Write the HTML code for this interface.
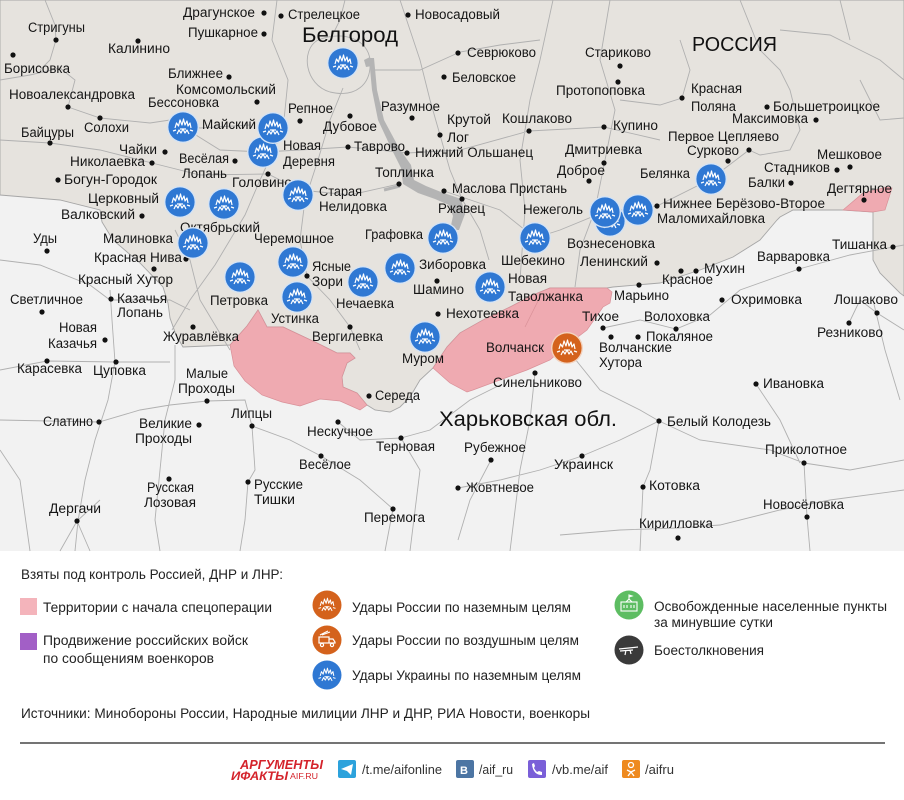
<!DOCTYPE html>
<html><head><meta charset="utf-8"><style>
html,body{margin:0;padding:0;background:#fff;}
svg{display:block;}
.l{font-family:"Liberation Sans",sans-serif;font-size:13.5px;fill:#151515;}
.g{font-family:"Liberation Sans",sans-serif;font-size:13.5px;fill:#222;}
.big{font-family:"Liberation Sans",sans-serif;font-size:21px;fill:#111;}
</style></head><body>
<svg width="904" height="800" viewBox="0 0 904 800" xmlns="http://www.w3.org/2000/svg">
<defs>
<g id="b" fill="none" stroke="#fff" stroke-width="1.2" stroke-linejoin="round">
<path d="M-8,1 L-6.5,-4 L-4.5,-1 L-3,-7 L-1,-2 L0.5,-8 L2,-2 L4,-6 L5,-1 L7,-4 L8,1"/>
<path d="M-6,7 L-4,3 L-2,6 L0,2 L2,6 L4,3 L6,7"/>
<path d="M-10,4 L-7,3 M10,4 L7,3 M-3,2 L3,2"/>
</g>
</defs>
<rect x="0" y="0" width="904" height="800" fill="#fff"/>
<rect x="0" y="0" width="904" height="551" fill="#f2f2f2"/>
<polygon fill="#e6e3de" stroke="#a6a6a6" stroke-width="0.9" points="0,0 904,0 904,296 900,293 880,273 873,260 873,212 843,210 827,210 793,210 780,217 777,220 760,240 733,257 700,270 660,283 613,287 607,288 550,288 533,295 510,307 483,320 460,333 447,347 433,368 420,380 410,397 400,407 390,412 375,410 367,405 357,393 343,387 342,377 347,363 355,358 350,353 337,353 317,343 300,335 283,327 267,327 258,310 247,326 230,345 183,347 176,335 170,318 168,303 163,287 140,263 113,240 102,222 100,210 60,200 0,195"/>
<!-- roads -->
<path fill="none" stroke="#b0b0b0" stroke-width="0.9" d="
M0,80 L30,75 L60,68 L75,80 L68,107 L100,118 L150,123 L170,120 L200,128 L250,125
M45,0 L55,25 L56,40 L50,60 L40,70
M277,0 L272,40 L288,80 L283,130 L260,180 L245,215 L215,265 L190,300 L172,330
M343,88 L330,120 L318,160 L305,200 L300,240 L307,276 L330,300 L350,327 L360,350
M318,40 C300,50 305,85 330,92 C355,98 372,85 370,60 C368,40 345,30 318,40
M345,0 L340,20 L330,40
M375,70 L420,70 L460,52 L500,45 L540,40
M400,0 L410,30 L420,60 L430,100 L440,135 L450,170 L462,199 L480,230 L489,260
M553,0 L540,60 L530,100 L520,160 L525,210 L520,280
M610,0 L600,60 L615,110 L605,160 L595,210 L580,250 L575,287
M680,40 L690,70 L682,98 L660,105 L620,100
M740,0 L760,50 L780,70 L790,90 L800,130 L790,150 L760,155 L749,150
M780,30 L830,35 L850,45 L880,60 L904,80
M840,0 L850,40 M860,80 L880,120 L904,118
M0,140 L50,143 L100,150 L152,163 L200,175 L268,174 L300,190 L350,195 L399,184
M183,127 L220,150 L263,152 L300,150 L348,147 L407,153 L460,150 L529,131 L604,127 L660,140
M444,191 L500,210 L535,238 L560,230 L604,212 L657,206 L711,179 L749,150
M0,260 L40,265 L90,285 L110,300 L170,300 L190,310
M110,290 L112,320 L115,362 L108,400 L95,440 L85,480 L78,521 L75,551
M175,345 L175,380 L165,420 L160,470 L155,520 L160,551
M0,370 L47,361 L116,362 L170,362
M0,420 L99,422 L140,410 L170,405 L207,401 L245,400 L252,426 L290,440 L321,456 L360,480 L393,509
M252,426 L255,470 L248,482 L245,520 L240,551
M100,500 L77,521 L60,551 M77,521 L90,551
M401,438 L430,430 L470,400 L500,385
M567,349 L600,390 L640,410 L659,421 L700,440 L770,450 L804,463 L850,470 L904,460
M659,421 L650,470 L643,487 L640,551
M804,463 L807,517 L810,551
M560,535 L620,530 L678,528 L720,525 L780,510 L830,500 L904,490
M535,373 L530,420 L520,470 L510,551
M603,328 L640,320 L676,329 L710,315 L740,290 L799,269 L850,255 L893,247 L904,245
M873,300 L885,350 L900,400
M393,509 L385,551
M0,450 L20,480 L30,551
M230,350 L200,300 L190,260 L175,230
M338,422 L360,440 L401,438 L420,470 L410,551
M458,488 L500,480 L540,470 L582,456 L620,440 L659,421
M491,460 L470,500 L458,540
M756,384 L780,420 L800,463
M849,323 L860,300 L877,313 L904,330
"/>
<!-- river -->
<polygon fill="#b4b4b4" points="369,58 372,90 378,120 392,150 401,168 403,184 418,193 435,199 449,205 453,216 450,230 459,230 465,214 461,199 441,192 426,186 414,180 411,165 399,148 384,120 377,90 374,58"/>
<path d="M384,190 L400,186" stroke="#b4b4b4" stroke-width="3" fill="none"/>
<path d="M364,60 L370,57 L372,66 L366,67 Z" fill="#b4b4b4"/>
<!-- pink -->
<polygon fill="#efaab1" stroke="#d99098" stroke-width="0.7" points="230,345 247,326 258,310 267,327 283,327 300,335 317,343 337,353 350,353 355,358 347,363 342,377 343,387 357,393 367,405 360,410 340,401 320,399 300,406 282,402 262,395 245,381 234,366"/>
<polygon fill="#efaab1" stroke="#d99098" stroke-width="0.7" points="433,368 447,347 460,333 483,320 510,307 533,295 550,288 607,288 612,292 610,303 603,307 587,330 570,343 550,360 527,370 500,380 473,390 467,392 450,383"/>
<path d="M525,327 L540,297" stroke="#d99098" stroke-width="0.7" fill="none"/>
<polygon fill="#efaab1" stroke="#d99098" stroke-width="0.7" points="843,210 863,193 887,187 892,188 885,210 873,212"/>
<!-- dots -->
<g fill="#111">
<circle cx="264" cy="13" r="2.6"/><circle cx="281" cy="16" r="2.6"/><circle cx="408" cy="15" r="2.6"/><circle cx="264" cy="34" r="2.6"/><circle cx="56" cy="40" r="2.6"/><circle cx="138" cy="41" r="2.6"/><circle cx="13" cy="55" r="2.6"/><circle cx="229" cy="77" r="2.6"/><circle cx="257" cy="102" r="2.6"/><circle cx="68" cy="107" r="2.6"/><circle cx="300" cy="121" r="2.6"/><circle cx="350" cy="116" r="2.6"/><circle cx="412" cy="118" r="2.6"/><circle cx="100" cy="118" r="2.6"/><circle cx="50" cy="143" r="2.6"/><circle cx="165" cy="152" r="2.6"/><circle cx="152" cy="163" r="2.6"/><circle cx="235" cy="161" r="2.6"/><circle cx="348" cy="147" r="2.6"/><circle cx="407" cy="153" r="2.6"/><circle cx="268" cy="174" r="2.6"/><circle cx="58" cy="180" r="2.6"/><circle cx="399" cy="184" r="2.6"/><circle cx="142" cy="216" r="2.6"/><circle cx="47" cy="251" r="2.6"/><circle cx="186" cy="259" r="2.6"/><circle cx="154" cy="269" r="2.6"/><circle cx="42" cy="312" r="2.6"/><circle cx="111" cy="299" r="2.6"/><circle cx="307" cy="276" r="2.6"/><circle cx="437" cy="281" r="2.6"/><circle cx="350" cy="327" r="2.6"/><circle cx="193" cy="327" r="2.6"/><circle cx="105" cy="340" r="2.6"/><circle cx="47" cy="361" r="2.6"/><circle cx="116" cy="362" r="2.6"/><circle cx="207" cy="401" r="2.6"/><circle cx="369" cy="396" r="2.6"/><circle cx="252" cy="426" r="2.6"/><circle cx="99" cy="422" r="2.6"/><circle cx="199" cy="425" r="2.6"/><circle cx="338" cy="422" r="2.6"/><circle cx="401" cy="438" r="2.6"/><circle cx="321" cy="456" r="2.6"/><circle cx="169" cy="479" r="2.6"/><circle cx="248" cy="482" r="2.6"/><circle cx="77" cy="521" r="2.6"/><circle cx="393" cy="509" r="2.6"/><circle cx="438" cy="314" r="2.6"/><circle cx="535" cy="373" r="2.6"/><circle cx="603" cy="328" r="2.6"/><circle cx="611" cy="337" r="2.6"/><circle cx="676" cy="329" r="2.6"/><circle cx="638" cy="337" r="2.6"/><circle cx="639" cy="285" r="2.6"/><circle cx="657" cy="263" r="2.6"/><circle cx="681" cy="271" r="2.6"/><circle cx="696" cy="271" r="2.6"/><circle cx="799" cy="269" r="2.6"/><circle cx="893" cy="247" r="2.6"/><circle cx="722" cy="300" r="2.6"/><circle cx="877" cy="313" r="2.6"/><circle cx="849" cy="323" r="2.6"/><circle cx="756" cy="384" r="2.6"/><circle cx="659" cy="421" r="2.6"/><circle cx="491" cy="460" r="2.6"/><circle cx="582" cy="456" r="2.6"/><circle cx="804" cy="463" r="2.6"/><circle cx="458" cy="488" r="2.6"/><circle cx="643" cy="487" r="2.6"/><circle cx="807" cy="517" r="2.6"/><circle cx="678" cy="538" r="2.6"/><circle cx="458" cy="53" r="2.6"/><circle cx="444" cy="77" r="2.6"/><circle cx="620" cy="66" r="2.6"/><circle cx="618" cy="82" r="2.6"/><circle cx="682" cy="98" r="2.6"/><circle cx="767" cy="107" r="2.6"/><circle cx="816" cy="120" r="2.6"/><circle cx="440" cy="135" r="2.6"/><circle cx="529" cy="131" r="2.6"/><circle cx="604" cy="127" r="2.6"/><circle cx="749" cy="150" r="2.6"/><circle cx="604" cy="163" r="2.6"/><circle cx="589" cy="181" r="2.6"/><circle cx="837" cy="170" r="2.6"/><circle cx="850" cy="167" r="2.6"/><circle cx="728" cy="161" r="2.6"/><circle cx="791" cy="183" r="2.6"/><circle cx="864" cy="200" r="2.6"/><circle cx="444" cy="191" r="2.6"/><circle cx="462" cy="199" r="2.6"/><circle cx="657" cy="206" r="2.6"/>
</g>
<!-- labels -->
<g class="l">
<text x="183" y="17" textLength="72" lengthAdjust="spacingAndGlyphs">Драгунское</text>
<text x="288" y="19" textLength="72" lengthAdjust="spacingAndGlyphs">Стрелецкое</text>
<text x="415" y="19" textLength="85" lengthAdjust="spacingAndGlyphs">Новосадовый</text>
<text x="188" y="37" textLength="70" lengthAdjust="spacingAndGlyphs">Пушкарное</text>
<text x="28" y="32" textLength="57" lengthAdjust="spacingAndGlyphs">Стригуны</text>
<text x="108" y="53" textLength="62" lengthAdjust="spacingAndGlyphs">Калинино</text>
<text x="4" y="73" textLength="66" lengthAdjust="spacingAndGlyphs">Борисовка</text>
<text x="168" y="78" textLength="55" lengthAdjust="spacingAndGlyphs">Ближнее</text>
<text x="176" y="94" textLength="100" lengthAdjust="spacingAndGlyphs">Комсомольский</text>
<text x="9" y="99" textLength="126" lengthAdjust="spacingAndGlyphs">Новоалександровка</text>
<text x="148" y="107" textLength="71" lengthAdjust="spacingAndGlyphs">Бессоновка</text>
<text x="288" y="113" textLength="45" lengthAdjust="spacingAndGlyphs">Репное</text>
<text x="323" y="131" textLength="54" lengthAdjust="spacingAndGlyphs">Дубовое</text>
<text x="381" y="111" textLength="59" lengthAdjust="spacingAndGlyphs">Разумное</text>
<text x="202" y="129" textLength="54" lengthAdjust="spacingAndGlyphs">Майский</text>
<text x="84" y="132" textLength="45" lengthAdjust="spacingAndGlyphs">Солохи</text>
<text x="21" y="137" textLength="53" lengthAdjust="spacingAndGlyphs">Байцуры</text>
<text x="119" y="154" textLength="38" lengthAdjust="spacingAndGlyphs">Чайки</text>
<text x="70" y="166" textLength="75" lengthAdjust="spacingAndGlyphs">Николаевка</text>
<text x="179" y="163" textLength="50" lengthAdjust="spacingAndGlyphs">Весёлая</text>
<text x="182" y="178" textLength="45" lengthAdjust="spacingAndGlyphs">Лопань</text>
<text x="283" y="150" textLength="38" lengthAdjust="spacingAndGlyphs">Новая</text>
<text x="283" y="166" textLength="52" lengthAdjust="spacingAndGlyphs">Деревня</text>
<text x="354" y="151" textLength="51" lengthAdjust="spacingAndGlyphs">Таврово</text>
<text x="415" y="157" textLength="118" lengthAdjust="spacingAndGlyphs">Нижний Ольшанец</text>
<text x="232" y="187" textLength="60" lengthAdjust="spacingAndGlyphs">Головино</text>
<text x="64" y="184" textLength="93" lengthAdjust="spacingAndGlyphs">Богун-Городок</text>
<text x="375" y="177" textLength="59" lengthAdjust="spacingAndGlyphs">Топлинка</text>
<text x="319" y="196" textLength="43" lengthAdjust="spacingAndGlyphs">Старая</text>
<text x="319" y="211" textLength="68" lengthAdjust="spacingAndGlyphs">Нелидовка</text>
<text x="88" y="203" textLength="71" lengthAdjust="spacingAndGlyphs">Церковный</text>
<text x="61" y="219" textLength="74" lengthAdjust="spacingAndGlyphs">Валковский</text>
<text x="180" y="232" textLength="80" lengthAdjust="spacingAndGlyphs">Октябрьский</text>
<text x="254" y="243" textLength="80" lengthAdjust="spacingAndGlyphs">Черемошное</text>
<text x="365" y="239" textLength="58" lengthAdjust="spacingAndGlyphs">Графовка</text>
<text x="33" y="243" textLength="24" lengthAdjust="spacingAndGlyphs">Уды</text>
<text x="103" y="243" textLength="70" lengthAdjust="spacingAndGlyphs">Малиновка</text>
<text x="94" y="262" textLength="88" lengthAdjust="spacingAndGlyphs">Красная Нива</text>
<text x="78" y="284" textLength="95" lengthAdjust="spacingAndGlyphs">Красный Хутор</text>
<text x="10" y="304" textLength="73" lengthAdjust="spacingAndGlyphs">Светличное</text>
<text x="117" y="303" textLength="50" lengthAdjust="spacingAndGlyphs">Казачья</text>
<text x="117" y="317" textLength="46" lengthAdjust="spacingAndGlyphs">Лопань</text>
<text x="210" y="305" textLength="58" lengthAdjust="spacingAndGlyphs">Петровка</text>
<text x="312" y="271" textLength="39" lengthAdjust="spacingAndGlyphs">Ясные</text>
<text x="312" y="286" textLength="31" lengthAdjust="spacingAndGlyphs">Зори</text>
<text x="419" y="269" textLength="67" lengthAdjust="spacingAndGlyphs">Зиборовка</text>
<text x="413" y="294" textLength="51" lengthAdjust="spacingAndGlyphs">Шамино</text>
<text x="336" y="308" textLength="58" lengthAdjust="spacingAndGlyphs">Нечаевка</text>
<text x="312" y="341" textLength="71" lengthAdjust="spacingAndGlyphs">Вергилевка</text>
<text x="271" y="323" textLength="48" lengthAdjust="spacingAndGlyphs">Устинка</text>
<text x="163" y="341" textLength="76" lengthAdjust="spacingAndGlyphs">Журавлёвка</text>
<text x="59" y="332" textLength="38" lengthAdjust="spacingAndGlyphs">Новая</text>
<text x="48" y="348" textLength="49" lengthAdjust="spacingAndGlyphs">Казачья</text>
<text x="17" y="373" textLength="65" lengthAdjust="spacingAndGlyphs">Карасевка</text>
<text x="93" y="375" textLength="53" lengthAdjust="spacingAndGlyphs">Цуповка</text>
<text x="186" y="378" textLength="42" lengthAdjust="spacingAndGlyphs">Малые</text>
<text x="178" y="393" textLength="57" lengthAdjust="spacingAndGlyphs">Проходы</text>
<text x="375" y="400" textLength="45" lengthAdjust="spacingAndGlyphs">Середа</text>
<text x="231" y="418" textLength="41" lengthAdjust="spacingAndGlyphs">Липцы</text>
<text x="43" y="426" textLength="50" lengthAdjust="spacingAndGlyphs">Слатино</text>
<text x="139" y="428" textLength="53" lengthAdjust="spacingAndGlyphs">Великие</text>
<text x="135" y="443" textLength="57" lengthAdjust="spacingAndGlyphs">Проходы</text>
<text x="307" y="436" textLength="66" lengthAdjust="spacingAndGlyphs">Нескучное</text>
<text x="376" y="451" textLength="59" lengthAdjust="spacingAndGlyphs">Терновая</text>
<text x="299" y="469" textLength="52" lengthAdjust="spacingAndGlyphs">Весёлое</text>
<text x="147" y="492" textLength="47" lengthAdjust="spacingAndGlyphs">Русская</text>
<text x="144" y="507" textLength="52" lengthAdjust="spacingAndGlyphs">Лозовая</text>
<text x="254" y="489" textLength="49" lengthAdjust="spacingAndGlyphs">Русские</text>
<text x="254" y="504" textLength="41" lengthAdjust="spacingAndGlyphs">Тишки</text>
<text x="49" y="513" textLength="52" lengthAdjust="spacingAndGlyphs">Дергачи</text>
<text x="364" y="522" textLength="61" lengthAdjust="spacingAndGlyphs">Перемога</text>
<text x="508" y="283" textLength="39" lengthAdjust="spacingAndGlyphs">Новая</text>
<text x="508" y="301" textLength="75" lengthAdjust="spacingAndGlyphs">Таволжанка</text>
<text x="446" y="318" textLength="73" lengthAdjust="spacingAndGlyphs">Нехотеевка</text>
<text x="402" y="363" textLength="42" lengthAdjust="spacingAndGlyphs">Муром</text>
<text x="486" y="352" textLength="58" lengthAdjust="spacingAndGlyphs">Волчанск</text>
<text x="493" y="387" textLength="89" lengthAdjust="spacingAndGlyphs">Синельниково</text>
<text x="582" y="321" textLength="37" lengthAdjust="spacingAndGlyphs">Тихое</text>
<text x="599" y="352" textLength="73" lengthAdjust="spacingAndGlyphs">Волчанские</text>
<text x="599" y="367" textLength="43" lengthAdjust="spacingAndGlyphs">Хутора</text>
<text x="644" y="321" textLength="66" lengthAdjust="spacingAndGlyphs">Волоховка</text>
<text x="646" y="341" textLength="67" lengthAdjust="spacingAndGlyphs">Покаляное</text>
<text x="614" y="300" textLength="55" lengthAdjust="spacingAndGlyphs">Марьино</text>
<text x="580" y="266" textLength="68" lengthAdjust="spacingAndGlyphs">Ленинский</text>
<text x="501" y="265" textLength="64" lengthAdjust="spacingAndGlyphs">Шебекино</text>
<text x="567" y="248" textLength="88" lengthAdjust="spacingAndGlyphs">Вознесеновка</text>
<text x="704" y="273" textLength="41" lengthAdjust="spacingAndGlyphs">Мухин</text>
<text x="662" y="284" textLength="51" lengthAdjust="spacingAndGlyphs">Красное</text>
<text x="757" y="261" textLength="73" lengthAdjust="spacingAndGlyphs">Варваровка</text>
<text x="832" y="249" textLength="55" lengthAdjust="spacingAndGlyphs">Тишанка</text>
<text x="731" y="304" textLength="71" lengthAdjust="spacingAndGlyphs">Охримовка</text>
<text x="834" y="304" textLength="64" lengthAdjust="spacingAndGlyphs">Лошаково</text>
<text x="817" y="337" textLength="66" lengthAdjust="spacingAndGlyphs">Резниково</text>
<text x="763" y="388" textLength="61" lengthAdjust="spacingAndGlyphs">Ивановка</text>
<text x="667" y="426" textLength="104" lengthAdjust="spacingAndGlyphs">Белый Колодезь</text>
<text x="464" y="452" textLength="62" lengthAdjust="spacingAndGlyphs">Рубежное</text>
<text x="554" y="469" textLength="59" lengthAdjust="spacingAndGlyphs">Украинск</text>
<text x="765" y="454" textLength="82" lengthAdjust="spacingAndGlyphs">Приколотное</text>
<text x="466" y="492" textLength="68" lengthAdjust="spacingAndGlyphs">Жовтневое</text>
<text x="649" y="490" textLength="51" lengthAdjust="spacingAndGlyphs">Котовка</text>
<text x="763" y="509" textLength="81" lengthAdjust="spacingAndGlyphs">Новосёловка</text>
<text x="639" y="528" textLength="74" lengthAdjust="spacingAndGlyphs">Кирилловка</text>
<text x="467" y="57" textLength="69" lengthAdjust="spacingAndGlyphs">Севрюково</text>
<text x="452" y="82" textLength="64" lengthAdjust="spacingAndGlyphs">Беловское</text>
<text x="585" y="57" textLength="66" lengthAdjust="spacingAndGlyphs">Стариково</text>
<text x="556" y="95" textLength="89" lengthAdjust="spacingAndGlyphs">Протопоповка</text>
<text x="691" y="93" textLength="51" lengthAdjust="spacingAndGlyphs">Красная</text>
<text x="691" y="111" textLength="45" lengthAdjust="spacingAndGlyphs">Поляна</text>
<text x="773" y="111" textLength="107" lengthAdjust="spacingAndGlyphs">Большетроицкое</text>
<text x="732" y="123" textLength="76" lengthAdjust="spacingAndGlyphs">Максимовка</text>
<text x="447" y="124" textLength="44" lengthAdjust="spacingAndGlyphs">Крутой</text>
<text x="447" y="142" textLength="22" lengthAdjust="spacingAndGlyphs">Лог</text>
<text x="502" y="123" textLength="70" lengthAdjust="spacingAndGlyphs">Кошлаково</text>
<text x="613" y="130" textLength="45" lengthAdjust="spacingAndGlyphs">Купино</text>
<text x="668" y="141" textLength="111" lengthAdjust="spacingAndGlyphs">Первое Цепляево</text>
<text x="687" y="155" textLength="52" lengthAdjust="spacingAndGlyphs">Сурково</text>
<text x="565" y="154" textLength="77" lengthAdjust="spacingAndGlyphs">Дмитриевка</text>
<text x="557" y="175" textLength="48" lengthAdjust="spacingAndGlyphs">Доброе</text>
<text x="817" y="159" textLength="65" lengthAdjust="spacingAndGlyphs">Мешковое</text>
<text x="764" y="172" textLength="66" lengthAdjust="spacingAndGlyphs">Стадников</text>
<text x="640" y="178" textLength="50" lengthAdjust="spacingAndGlyphs">Белянка</text>
<text x="748" y="187" textLength="37" lengthAdjust="spacingAndGlyphs">Балки</text>
<text x="827" y="193" textLength="65" lengthAdjust="spacingAndGlyphs">Дегтярное</text>
<text x="452" y="193" textLength="115" lengthAdjust="spacingAndGlyphs">Маслова Пристань</text>
<text x="438" y="213" textLength="47" lengthAdjust="spacingAndGlyphs">Ржавец</text>
<text x="523" y="214" textLength="60" lengthAdjust="spacingAndGlyphs">Нежеголь</text>
<text x="663" y="208" textLength="162" lengthAdjust="spacingAndGlyphs">Нижнее Берёзово-Второе</text>
<text x="657" y="223" textLength="108" lengthAdjust="spacingAndGlyphs">Маломихайловка</text>
</g>
<text class="big" x="302" y="42" textLength="96" lengthAdjust="spacingAndGlyphs">Белгород</text>
<text class="big" x="692" y="51" textLength="85" lengthAdjust="spacingAndGlyphs" style="font-size:20px">РОССИЯ</text>
<text class="big" x="439" y="426" textLength="178" lengthAdjust="spacingAndGlyphs">Харьковская обл.</text>
<!-- strike icons -->
<g>
<g transform="translate(343,63)"><circle r="16" fill="#d4e3f5"/><circle r="14.6" fill="#2f78d3"/><use href="#b"/></g>
<g transform="translate(183,127)"><circle r="16" fill="#d4e3f5"/><circle r="14.6" fill="#2f78d3"/><use href="#b"/></g>
<g transform="translate(263,152)"><circle r="16" fill="#d4e3f5"/><circle r="14.6" fill="#2f78d3"/><use href="#b"/></g>
<g transform="translate(273,128)"><circle r="16" fill="#d4e3f5"/><circle r="14.6" fill="#2f78d3"/><use href="#b"/></g>
<g transform="translate(298,195)"><circle r="16" fill="#d4e3f5"/><circle r="14.6" fill="#2f78d3"/><use href="#b"/></g>
<g transform="translate(180,202)"><circle r="16" fill="#d4e3f5"/><circle r="14.6" fill="#2f78d3"/><use href="#b"/></g>
<g transform="translate(224,204)"><circle r="16" fill="#d4e3f5"/><circle r="14.6" fill="#2f78d3"/><use href="#b"/></g>
<g transform="translate(193,243)"><circle r="16" fill="#d4e3f5"/><circle r="14.6" fill="#2f78d3"/><use href="#b"/></g>
<g transform="translate(240,277)"><circle r="16" fill="#d4e3f5"/><circle r="14.6" fill="#2f78d3"/><use href="#b"/></g>
<g transform="translate(293,262)"><circle r="16" fill="#d4e3f5"/><circle r="14.6" fill="#2f78d3"/><use href="#b"/></g>
<g transform="translate(297,297)"><circle r="16" fill="#d4e3f5"/><circle r="14.6" fill="#2f78d3"/><use href="#b"/></g>
<g transform="translate(363,282)"><circle r="16" fill="#d4e3f5"/><circle r="14.6" fill="#2f78d3"/><use href="#b"/></g>
<g transform="translate(400,268)"><circle r="16" fill="#d4e3f5"/><circle r="14.6" fill="#2f78d3"/><use href="#b"/></g>
<g transform="translate(443,238)"><circle r="16" fill="#d4e3f5"/><circle r="14.6" fill="#2f78d3"/><use href="#b"/></g>
<g transform="translate(535,238)"><circle r="16" fill="#d4e3f5"/><circle r="14.6" fill="#2f78d3"/><use href="#b"/></g>
<g transform="translate(490,287)"><circle r="16" fill="#d4e3f5"/><circle r="14.6" fill="#2f78d3"/><use href="#b"/></g>
<g transform="translate(425,337)"><circle r="16" fill="#d4e3f5"/><circle r="14.6" fill="#2f78d3"/><use href="#b"/></g>
<g transform="translate(610,221)"><circle r="16" fill="#d4e3f5"/><circle r="14.6" fill="#2f78d3"/><use href="#b"/></g>
<g transform="translate(605,212)"><circle r="16" fill="#d4e3f5"/><circle r="14.6" fill="#2f78d3"/><use href="#b"/></g>
<g transform="translate(638,210)"><circle r="16" fill="#d4e3f5"/><circle r="14.6" fill="#2f78d3"/><use href="#b"/></g>
<g transform="translate(711,179)"><circle r="16" fill="#d4e3f5"/><circle r="14.6" fill="#2f78d3"/><use href="#b"/></g>
<g transform="translate(567,348)"><circle r="16" fill="#f3d3bf"/><circle r="14.6" fill="#d4621c"/><use href="#b"/></g>
</g>
<!-- legend -->
<text class="g" x="21" y="579" textLength="262" lengthAdjust="spacingAndGlyphs">Взяты под контроль Россией, ДНР и ЛНР:</text>
<rect x="20" y="598" width="17" height="17" fill="#f4b4bb"/>
<text class="g" x="43" y="612" textLength="229" lengthAdjust="spacingAndGlyphs">Территории с начала спецоперации</text>
<rect x="20" y="633" width="17" height="17" fill="#a25fc6"/>
<text class="g" x="43" y="645" textLength="205" lengthAdjust="spacingAndGlyphs">Продвижение российских войск</text>
<text class="g" x="43" y="663" textLength="171" lengthAdjust="spacingAndGlyphs">по сообщениям военкоров</text>
<g transform="translate(327,605)"><circle r="14.5" fill="#d4621c"/><g transform="scale(0.85)"><use href="#b"/></g></g>
<g transform="translate(327,640)"><circle r="14.5" fill="#d4621c"/>
<g fill="none" stroke="#fff" stroke-width="1.2"><rect x="-8" y="-3" width="10" height="6"/><path d="M2,-1 L6,-1 L8,2 L8,3 L2,3"/><circle cx="-5" cy="5" r="1.6"/><circle cx="5" cy="5" r="1.6"/><path d="M-7,-5 L1,-9 M-5,-5 L3,-8"/></g></g>
<g transform="translate(327,675)"><circle r="14.5" fill="#2f78d3"/><g transform="scale(0.85)"><use href="#b"/></g></g>
<text class="g" x="352" y="612" textLength="219" lengthAdjust="spacingAndGlyphs">Удары России по наземным целям</text>
<text class="g" x="352" y="645" textLength="227" lengthAdjust="spacingAndGlyphs">Удары России по воздушным целям</text>
<text class="g" x="352" y="680" textLength="229" lengthAdjust="spacingAndGlyphs">Удары Украины по наземным целям</text>
<g transform="translate(629,605)"><circle r="14.5" fill="#5dbd62"/>
<g fill="none" stroke="#fff" stroke-width="1.1"><rect x="-8" y="-3" width="16" height="9"/><path d="M-3,-3 L0,-6 L3,-3 M0,-6 L0,-10 L3,-9 L0,-8"/><path d="M-5,0 L-5,3 M-2,0 L-2,3 M2,0 L2,3 M5,0 L5,3"/></g></g>
<g transform="translate(629,650)"><circle r="14.5" fill="#3a3a3a"/>
<g fill="none" stroke="#fff" stroke-width="1.2"><path d="M-10,-1 L9,-3 M-9,1 L4,0 M-3,0 L-4,5 M1,0 L2,4"/></g></g>
<text class="g" x="654" y="611" textLength="233" lengthAdjust="spacingAndGlyphs">Освобожденные населенные пункты</text>
<text class="g" x="654" y="627" textLength="119" lengthAdjust="spacingAndGlyphs">за минувшие сутки</text>
<text class="g" x="654" y="655" textLength="110" lengthAdjust="spacingAndGlyphs">Боестолкновения</text>
<text class="g" x="21" y="718" textLength="569" lengthAdjust="spacingAndGlyphs">Источники: Минобороны России, Народные милиции ЛНР и ДНР, РИА Новости, военкоры</text>
<line x1="20" y1="743" x2="885" y2="743" stroke="#222" stroke-width="1.3"/>
<!-- footer -->
<text x="240" y="769" textLength="83" lengthAdjust="spacingAndGlyphs" style="font-family:'Liberation Sans',sans-serif;font-size:13px;font-weight:bold;font-style:italic;fill:#d4232b">АРГУМЕНТЫ</text>
<text x="231" y="780" textLength="57" lengthAdjust="spacingAndGlyphs" style="font-family:'Liberation Sans',sans-serif;font-size:12px;font-weight:bold;font-style:italic;fill:#d4232b">ИФАКТЫ</text>
<text x="290" y="779" textLength="28" lengthAdjust="spacingAndGlyphs" style="font-family:'Liberation Sans',sans-serif;font-size:8px;fill:#d4232b">AIF.RU</text>
<rect x="338" y="760" width="18" height="18" rx="2" fill="#2ca2dc"/>
<path d="M341,769 L353,764 L351,775 L347,771 Z" fill="#fff"/>
<text x="362" y="774" textLength="80" lengthAdjust="spacingAndGlyphs" style="font-family:'Liberation Sans',sans-serif;font-size:13px;fill:#333">/t.me/aifonline</text>
<rect x="456" y="760" width="18" height="18" rx="2" fill="#4c75a3"/>
<text x="460" y="774" style="font-family:'Liberation Sans',sans-serif;font-size:11px;font-weight:bold;fill:#fff">B</text>
<text x="479" y="774" textLength="34" lengthAdjust="spacingAndGlyphs" style="font-family:'Liberation Sans',sans-serif;font-size:13px;fill:#333">/aif_ru</text>
<rect x="528" y="760" width="18" height="18" rx="2" fill="#7a5fd8"/>
<path d="M532,764 Q533,775 542,775 L542,772 L539,771 L537,772 Q535,770 534,768 L535,766 L534,763 Z" fill="#fff"/>
<text x="552" y="774" textLength="56" lengthAdjust="spacingAndGlyphs" style="font-family:'Liberation Sans',sans-serif;font-size:13px;fill:#333">/vb.me/aif</text>
<rect x="622" y="760" width="18" height="18" rx="2" fill="#ee8a1f"/>
<circle cx="631" cy="765" r="2.5" fill="none" stroke="#fff" stroke-width="1.3"/>
<path d="M627,770 L631,772 L635,770 M631,772 L628,776 M631,772 L634,776" fill="none" stroke="#fff" stroke-width="1.3"/>
<text x="645" y="774" textLength="29" lengthAdjust="spacingAndGlyphs" style="font-family:'Liberation Sans',sans-serif;font-size:13px;fill:#333">/aifru</text>
</svg>
</body></html>
